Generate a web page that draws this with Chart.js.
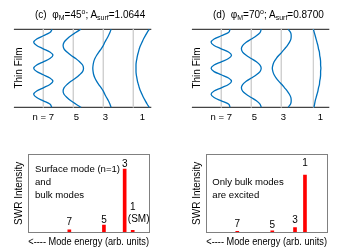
<!DOCTYPE html>
<html>
<head>
<meta charset="utf-8">
<script src="https://cdn.jsdelivr.net/npm/chart.js@4.4.0/dist/chart.umd.min.js"></script>
<style>
  html, body { margin: 0; padding: 0; background: #fff; }
  body { width: 356px; height: 249px; position: relative; overflow: hidden;
         font-family: "Liberation Sans", Arial, sans-serif; color: #000; }
  canvas { position: absolute; }
  .txt { position: absolute; font-size: 10px; line-height: 12px; white-space: nowrap; }
  .txt sub, .txt sup { font-size: 7px; line-height: 0; position: relative; vertical-align: baseline; }
  .txt sub { top: 2px; }
  .txt sup { top: -4px; }
  .side { position: absolute; font-size: 10px; line-height: 12px; white-space: nowrap;
          transform: translate(-50%, -50%) rotate(-90deg); }
  .note { position: absolute; font-size: 9.6px; line-height: 12.9px; white-space: nowrap; }
</style>
</head>
<body>

<canvas id="filmC" width="178" height="125" style="left:0;top:0"></canvas>
<canvas id="filmD" width="178" height="125" style="left:178px;top:0"></canvas>
<canvas id="swrC" width="178" height="124" style="left:0;top:125px"></canvas>
<canvas id="swrD" width="178" height="124" style="left:178px;top:125px"></canvas>

<div class="txt" style="left:35px;top:9px">(c)&nbsp;&nbsp;φ<sub>M</sub>=45<sup>o</sup>; A<sub>surf</sub>=1.0644</div>
<div class="txt" style="left:213px;top:9px">(d)&nbsp;&nbsp;φ<sub>M</sub>=70<sup>o</sup>; A<sub>surf</sub>=0.8700</div>
<div class="side" style="left:19.3px;top:68.3px">Thin Film</div>
<div class="side" style="left:197.3px;top:68.3px">Thin Film</div>
<div class="note" style="left:35px;top:162.8px">Surface mode (n=1)<br>and<br>bulk modes</div>
<div class="note" style="left:212.3px;top:175.8px">Only bulk modes<br>are excited</div>

<script>
/* mode profiles across the film + SWR spectra, panels (c) and (d) */

const FONT = "'Liberation Sans', Arial, sans-serif";

// depth through the film: 0 = top surface, 1 = bottom surface
const depth = [0, 0.042, 0.083, 0.125, 0.167, 0.208, 0.25, 0.292, 0.333, 0.375, 0.417, 0.458,
               0.5, 0.542, 0.583, 0.625, 0.667, 0.708, 0.75, 0.792, 0.833, 0.875, 0.917, 0.958, 1];

// x-axis labels under the profiles
const modeNames = ['n = 7', '5', '3', '1'];
const modeNamePos = [1.0, 2.1, 3.07, 4.3];

// (c) phi_M = 45 deg : rest position of each mode and its displacement with depth
const centersC = [1, 2, 3, 4];
const c7 = [0.29, 0.22, 0, -0.22, -0.32, -0.22, 0, 0.22, 0.32, 0.22, 0, -0.22, -0.32,
            -0.22, 0, 0.22, 0.32, 0.22, 0, -0.22, -0.32, -0.22, 0, 0.22, 0.28];
const c5 = [0.25, 0.08, -0.08, -0.21, -0.31, -0.34, -0.31, -0.21, -0.08, 0.08, 0.21, 0.31, 0.34,
            0.31, 0.21, 0.08, -0.08, -0.21, -0.31, -0.34, -0.31, -0.21, -0.08, 0.08, 0.26];
const c3 = [0.26, 0.22, 0.17, 0.11, 0.05, 0, -0.07, -0.15, -0.22, -0.28, -0.32, -0.34, -0.35,
            -0.34, -0.32, -0.28, -0.22, -0.15, -0.07, 0, 0.05, 0.11, 0.17, 0.22, 0.26];
const c1 = [0.53, 0.46, 0.40, 0.34, 0.29, 0.24, 0.20, 0.17, 0.14, 0.12, 0.10, 0.09, 0.09,
            0.09, 0.10, 0.12, 0.14, 0.17, 0.20, 0.24, 0.29, 0.34, 0.40, 0.46, 0.53];

// (d) phi_M = 70 deg
const centersD = [1, 2, 3, 4.07];
const d7 = [0.29, 0.24, 0, -0.24, -0.34, -0.24, 0, 0.24, 0.34, 0.24, 0, -0.24, -0.34,
            -0.24, 0, 0.24, 0.34, 0.24, 0, -0.24, -0.34, -0.24, 0, 0.24, 0.29];
const d5 = [0.33, 0.29, 0.17, 0, -0.17, -0.29, -0.33, -0.29, -0.17, 0, 0.17, 0.29, 0.33,
            0.29, 0.17, 0, -0.17, -0.29, -0.33, -0.29, -0.17, 0, 0.17, 0.29, 0.33];
const d3 = [0.23, 0.31, 0.33, 0.32, 0.27, 0.20, 0.11, 0.02, -0.08, -0.17, -0.24, -0.28, -0.30,
            -0.28, -0.24, -0.17, -0.08, 0.02, 0.11, 0.20, 0.27, 0.32, 0.33, 0.31, 0.23];
const d1 = [0, 0.03, 0.06, 0.09, 0.12, 0.15, 0.17, 0.20, 0.21, 0.23, 0.24, 0.24, 0.25,
            0.24, 0.24, 0.23, 0.21, 0.20, 0.17, 0.15, 0.12, 0.09, 0.06, 0.04, 0.02];

// SWR spectra (bars) — mode numbers, energy position, intensity, label height
const modeNumbers = ['7', '5', '3', '1'];
const energyC = [4.08, 7.52, 9.58, 10.38];
const swrC    = [0.033, 0.094, 0.81, 0.026];
const labelYC = [0.123, 0.158, 0.876, 0.324];
const energyD = [3.08, 6.56, 8.82, 9.81];
const swrD    = [0.013, 0.02, 0.059, 0.735];
const labelYD = [0.106, 0.094, 0.158, 0.885];
const smNote  = { text: '(SM)', x: 10.97, y: 0.17 };

/* ── film profile panels ─────────────────────── */
function filmChart(id, centers, profiles) {
  const datasets = [];
  profiles.forEach((p, k) => datasets.push({
    data: depth.map((d, i) => ({ x: centers[k] + p[i], y: d })),
    borderColor: '#0072bd', borderWidth: 1.3, cubicInterpolationMode: 'monotone', clip: false
  }));
  centers.forEach(c => datasets.push({
    data: [{ x: c, y: 0 }, { x: c, y: 1 }],
    borderColor: '#d0d0d0', borderWidth: 1, tension: 0, clip: false
  }));
  [0, 1].forEach(s => datasets.push({
    data: [{ x: 0.02, y: s }, { x: 4.6, y: s }],
    borderColor: '#444444', borderWidth: 1.2, tension: 0, clip: false
  }));

  new Chart(document.getElementById(id), {
    type: 'line',
    data: { datasets },
    options: {
      responsive: false, animation: false, indexAxis: 'y',
      layout: { padding: { left: 13.3, right: 26.7, top: 29.3, bottom: 0 } },
      elements: { point: { radius: 0 }, line: { fill: false } },
      plugins: { legend: { display: false }, tooltip: { enabled: false } },
      scales: {
        x: {
          type: 'linear', min: 0, max: 4.6,
          afterBuildTicks: s => { s.ticks = modeNamePos.map(v => ({ value: v })); },
          afterFit: s => { s.height = 17.7; },
          grid: { display: false, drawTicks: false }, border: { display: false },
          ticks: { padding: 4, color: '#000', autoSkip: false, maxRotation: 0,
                   font: { family: FONT, size: 9.5 }, callback: (v, i) => modeNames[i] }
        },
        y: { type: 'linear', min: 0, max: 1, reverse: true, display: false }
      }
    }
  });
}

/* ── SWR intensity panels ────────────────────── */
const frame = {
  id: 'frame',
  afterDraw(chart) {
    const { ctx, chartArea: a } = chart;
    ctx.save();
    ctx.strokeStyle = '#808080';
    ctx.lineWidth = 1;
    ctx.strokeRect(Math.round(a.left) + 0.5, Math.round(a.top) + 0.5,
                   Math.round(a.width), Math.round(a.height));
    ctx.restore();
  }
};

function barLabels(labels, xs, ys, note) {
  return {
    id: 'barLabels',
    afterDatasetsDraw(chart) {
      const { ctx, scales: { x, y } } = chart;
      ctx.save();
      ctx.font = '10px ' + FONT;
      ctx.fillStyle = '#000';
      ctx.textAlign = 'center';
      ctx.textBaseline = 'middle';
      labels.forEach((t, i) => ctx.fillText(t, x.getPixelForValue(xs[i]), y.getPixelForValue(ys[i])));
      if (note) ctx.fillText(note.text, x.getPixelForValue(note.x), y.getPixelForValue(note.y));
      ctx.restore();
    }
  };
}

function swrChart(id, energy, swr, labelY, note) {
  new Chart(document.getElementById(id), {
    type: 'bar',
    data: {
      datasets: [{
        data: energy.map((e, i) => ({ x: e, y: swr[i] })),
        backgroundColor: '#ff0000', borderWidth: 0, barThickness: 3
      }]
    },
    options: {
      responsive: false, animation: false,
      layout: { padding: { left: 0, right: 29, top: 29.3, bottom: 0 } },
      plugins: { legend: { display: false }, tooltip: { enabled: false } },
      scales: {
        x: {
          type: 'linear', min: 0, max: 12, offset: false,
          afterFit: s => { s.height = 16.7; },
          ticks: { display: false }, grid: { display: false, drawTicks: false }, border: { display: false },
          title: { display: true, text: '<---- Mode energy (arb. units)', color: '#000',
                   font: { family: FONT, size: 10 }, padding: { top: 0, bottom: 0.7 } }
        },
        y: {
          min: 0, max: 1,
          afterFit: s => { s.width = 28.3; },
          ticks: { display: false }, grid: { display: false, drawTicks: false }, border: { display: false },
          title: { display: true, text: 'SWR Intensity', color: '#000',
                   font: { family: FONT, size: 10 }, padding: { top: 13.3, bottom: 0 } }
        }
      }
    },
    plugins: [frame, barLabels(modeNumbers, energy, labelY, note)]
  });
}

filmChart('filmC', centersC, [c7, c5, c3, c1]);
filmChart('filmD', centersD, [d7, d5, d3, d1]);
swrChart('swrC', energyC, swrC, labelYC, smNote);
swrChart('swrD', energyD, swrD, labelYD, null);
</script>
</body>
</html>
